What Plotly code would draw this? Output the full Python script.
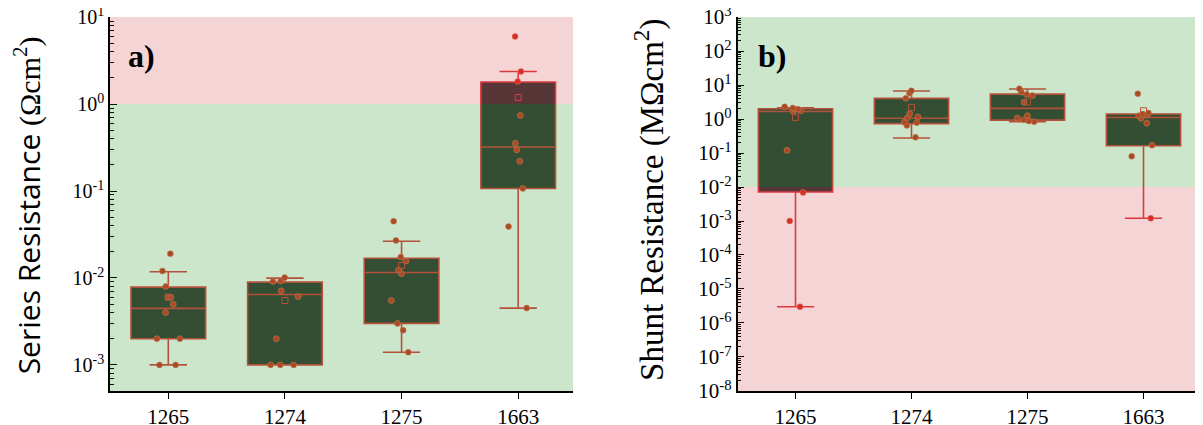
import plotly.graph_objects as go

# ---------------- data ----------------
categories = ["1265", "1274", "1275", "1663"]

# Series resistance (Ohm cm^2) – individual samples
rs_1265 = [0.019, 0.012, 0.008, 0.006, 0.006, 0.005, 0.004, 0.002, 0.002, 0.001, 0.001]
rs_1274 = [0.0101, 0.0092, 0.0091, 0.0071, 0.0061, 0.0020, 0.0010, 0.0010, 0.0010]
rs_1275 = [0.045, 0.027, 0.0174, 0.0157, 0.0123, 0.0112, 0.0055, 0.0030, 0.0025, 0.0014]
rs_1663 = [6.0, 2.37, 1.82, 0.74, 0.354, 0.297, 0.22, 0.107, 0.039, 0.0045]

# Series resistance box statistics
rs_q1 = [0.0020, 0.0010, 0.0030, 0.107]
rs_median = [0.00447, 0.00646, 0.01155, 0.321]
rs_q3 = [0.00785, 0.00895, 0.01686, 1.79]
rs_lower = [0.0010, 0.0010, 0.0014, 0.0045]
rs_upper = [0.0118, 0.00995, 0.0264, 2.37]
rs_mean = [0.0060, 0.0055, 0.0139, 1.19]

# Shunt resistance (MOhm cm^2) – individual samples
rsh_1265 = [2.3, 2.1, 1.95, 1.95, 1.75, 1.7, 0.12, 0.0069, 0.001, 3.0e-6]
rsh_1274 = [6.8, 5.8, 4.1, 1.43, 1.15, 1.07, 0.80, 0.78, 0.65, 0.29]
rsh_1275 = [7.8, 6.2, 5.3, 4.9, 3.1, 1.25, 1.07, 0.95, 0.87, 0.83]
rsh_1663 = [5.5, 1.5, 1.4, 1.3, 1.25, 1.05, 0.75, 0.17, 0.08, 0.0012]

# Shunt resistance box statistics
rsh_q1 = [0.0071, 0.73, 0.93, 0.164]
rsh_median = [1.67, 1.05, 2.05, 1.11]
rsh_q3 = [2.0, 4.05, 5.4, 1.4]
rsh_lower = [3.0e-6, 0.276, 0.83, 0.0012]
rsh_upper = [2.15, 6.7, 7.6, 1.4]
rsh_mean = [1.1, 2.2, 3.16, 1.75]

rs_exps = [-3, -2, -1, 0, 1]
rs_ticks = [10.0 ** e for e in rs_exps]
rs_ticktext = ["10<sup>%d</sup>" % e for e in rs_exps]
rsh_exps = [-8, -7, -6, -5, -4, -3, -2, -1, 0, 1, 2, 3]
rsh_ticks = [10.0 ** e for e in rsh_exps]
rsh_ticktext = ["10<sup>%d</sup>" % e for e in rsh_exps]

# ---------------- style ----------------
BOX_FILL = "#414240"
EDGE = "#e2454a"
PT = "#d63c2c"
GREEN_OV = "rgba(0,128,0,0.20)"
RED_OV = "rgba(195,0,10,0.17)"
SERIF = "Liberation Serif"
SANS = "Open Sans"

# page is offset by the default 8px body margin -> work in page pixels
OFF = 8
FW, FH = 1203 - OFF, 425 - OFF


def px(xp):
    return (xp - OFF) / FW


def py(yp):
    return 1 - (yp - OFF) / FH


fig = go.Figure()


def add_panel(xa, ya, q1, med, q3, lo, up, mean, groups):
    fig.add_trace(go.Box(
        x=categories, q1=q1, median=med, q3=q3, lowerfence=lo, upperfence=up,
        boxpoints=False, fillcolor=BOX_FILL, line=dict(color=EDGE, width=1.6),
        width=0.64, whiskerwidth=0.5, xaxis=xa, yaxis=ya, showlegend=False,
    ))
    fig.add_trace(go.Scatter(
        x=categories, y=mean, mode="markers", xaxis=xa, yaxis=ya, showlegend=False,
        marker=dict(symbol="square-open", size=6, color=EDGE, line=dict(width=1)),
    ))
    xs, ys = [], []
    for c, vals in zip(categories, groups):
        xs += [c] * len(vals)
        ys += vals
    fig.add_trace(go.Box(
        x=xs, y=ys, boxpoints="all", jitter=0.4, pointpos=0, width=0.64,
        fillcolor="rgba(0,0,0,0)", line=dict(width=0, color="rgba(0,0,0,0)"),
        marker=dict(color=PT, size=6, line=dict(color="#ee8a78", width=0.5)),
        xaxis=xa, yaxis=ya, showlegend=False,
    ))


add_panel("x", "y", rs_q1, rs_median, rs_q3, rs_lower, rs_upper, rs_mean,
          [rs_1265, rs_1274, rs_1275, rs_1663])
add_panel("x2", "y2", rsh_q1, rsh_median, rsh_q3, rsh_lower, rsh_upper, rsh_mean,
          [rsh_1265, rsh_1274, rsh_1275, rsh_1663])
# carrier for the right-hand spine of panel b
fig.add_trace(go.Scatter(x=[None], y=[None], xaxis="x2", yaxis="y3",
                         showlegend=False, hoverinfo="skip"))

dom1 = [px(110), px(573)]
dom2 = [px(737.5), px(1201.5)]

rs_minor = [m * 10.0 ** e for e in range(-4, 1) for m in range(2, 10)]
rsh_minor = [m * 10.0 ** e for e in range(-8, 3) for m in range(2, 10)]

xcommon = dict(type="category", showline=True, linecolor="black", linewidth=1.5,
               ticks="outside", ticklen=6, tickwidth=1.2, tickcolor="black",
               tickfont=dict(family=SERIF, size=21, color="black"),
               showgrid=False, zeroline=False, automargin=False)
ycommon = dict(type="log", showline=True, linecolor="black", linewidth=1.5,
               ticks="inside", ticklen=7, tickwidth=1.2, tickcolor="black",
               ticklabeloverflow="allow", automargin=False,
               showgrid=False, zeroline=False)

fig.update_layout(
    width=FW, height=FH, margin=dict(l=0, r=0, t=17 - OFF, b=425 - 391, autoexpand=False),
    paper_bgcolor="white", plot_bgcolor="white", boxmode="overlay",
    xaxis=dict(domain=dom1, anchor="y", range=[-0.5, 3.47], **xcommon),
    yaxis=dict(domain=[0, 1], anchor="x", range=[-3.3, 1.001],
               tickvals=rs_ticks, ticktext=rs_ticktext,
               tickfont=dict(family=SERIF, size=20, color="black"),
               minor=dict(ticks="inside", ticklen=4, tickcolor="black", tickvals=rs_minor),
               **ycommon),
    xaxis2=dict(domain=dom2, anchor="y2", range=[-0.5, 3.5], **xcommon),
    yaxis2=dict(domain=[0, 1], anchor="x2", range=[-8.001, 3.001],
                tickvals=rsh_ticks, ticktext=rsh_ticktext,
                tickfont=dict(family=SERIF, size=21, color="black"),
                minor=dict(ticks="inside", ticklen=4, tickcolor="black", tickvals=rsh_minor),
                **ycommon),
    yaxis3=dict(overlaying="y2", anchor="x2", side="right", range=[0, 10], dtick=1,
                showline=True, linecolor="black", linewidth=1.5, ticks="inside",
                ticklen=6, tickcolor="black", showticklabels=False, showgrid=False,
                zeroline=False, automargin=False),
)

# overlay regions (drawn above the boxes, like the reference)
fig.add_shape(type="rect", xref="x domain", yref="y domain", x0=0, x1=1,
              y0=0, y1=3.3 / 4.301, fillcolor=GREEN_OV, line=dict(width=0), layer="above")
fig.add_shape(type="rect", xref="x domain", yref="y domain", x0=0, x1=1,
              y0=3.3 / 4.301, y1=1, fillcolor=RED_OV, line=dict(width=0), layer="above")
fig.add_shape(type="rect", xref="x2 domain", yref="y2 domain", x0=0, x1=1,
              y0=6.001 / 11.002, y1=1, fillcolor=GREEN_OV, line=dict(width=0), layer="above")
fig.add_shape(type="rect", xref="x2 domain", yref="y2 domain", x0=0, x1=1,
              y0=0, y1=6.001 / 11.002, fillcolor=RED_OV, line=dict(width=0), layer="above")

# panel labels
fig.add_annotation(text="<b>a)</b>", xref="paper", yref="paper", x=px(126), y=py(51),
                   xanchor="left", yanchor="middle", showarrow=False,
                   font=dict(family=SERIF, size=32, color="black"))
fig.add_annotation(text="<b>b)</b>", xref="paper", yref="paper", x=px(756), y=py(52),
                   xanchor="left", yanchor="middle", showarrow=False,
                   font=dict(family=SERIF, size=32, color="black"))

# axis titles
fig.add_annotation(
    text="Series Resistance <span style='font-family:Liberation Serif'>(Ωcm<sup>2</sup>)</span>",
    xref="paper", yref="paper", x=px(28), y=py(218), textangle=-90, showarrow=False,
    xanchor="center", yanchor="middle", font=dict(family=SANS, size=30, color="black"))
fig.add_annotation(
    text="Shunt Resistance (MΩcm<sup>2</sup>)",
    xref="paper", yref="paper", x=px(650), y=py(212), textangle=-90, showarrow=False,
    xanchor="center", yanchor="middle", font=dict(family=SERIF, size=33, color="black"))

fig.write_html("out.html")
